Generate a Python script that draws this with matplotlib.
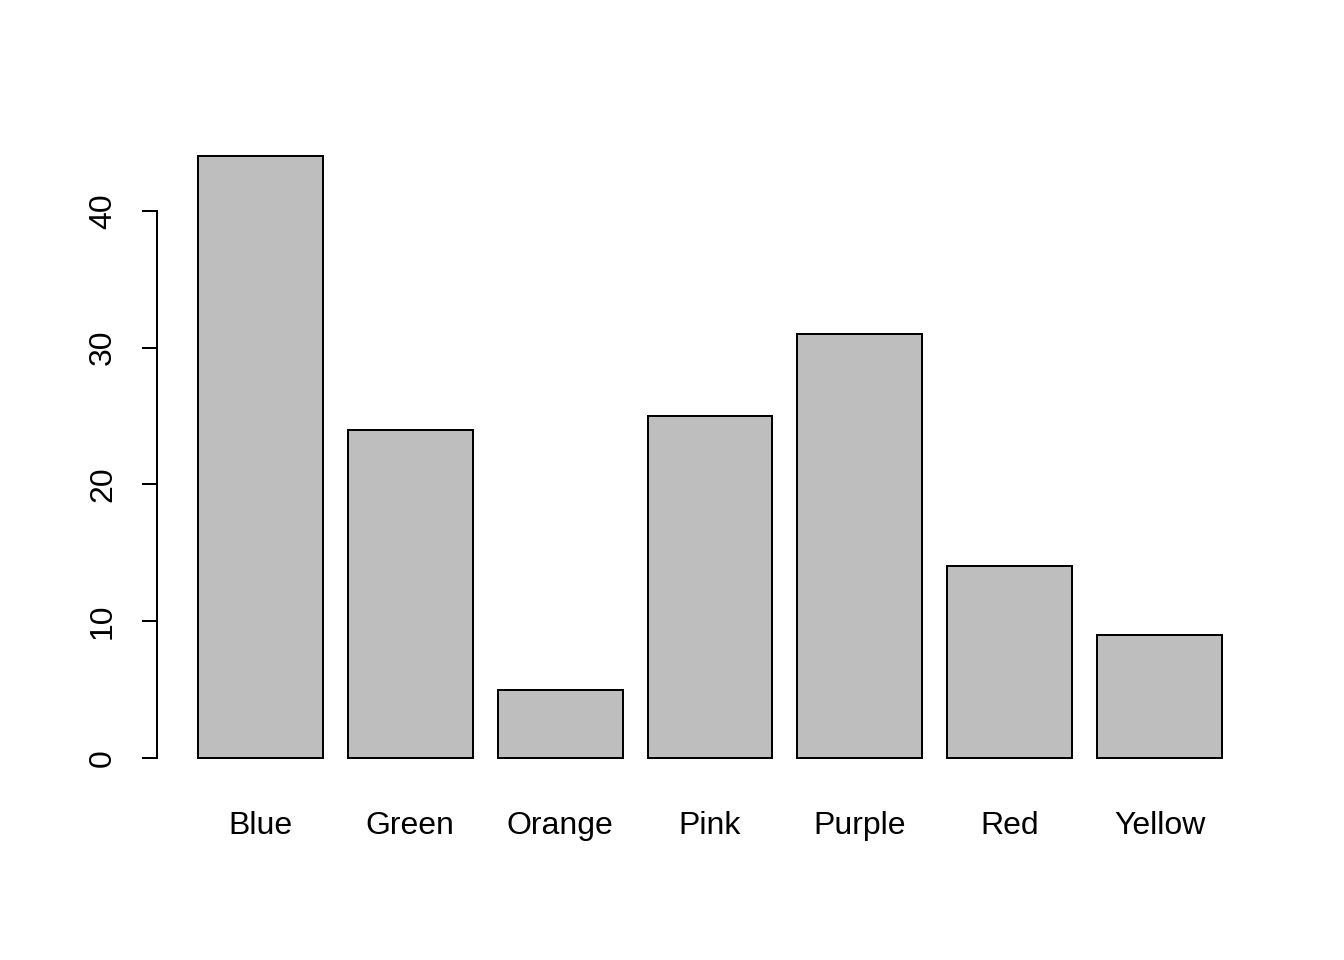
import matplotlib
matplotlib.use("Agg")
import matplotlib.pyplot as plt

categories = ["Blue", "Green", "Orange", "Pink", "Purple", "Red", "Yellow"]
values = [44, 24, 5, 25, 31, 14, 9]
yticks = [0, 10, 20, 30, 40]

plt.rcParams['font.family'] = ['Liberation Sans', 'DejaVu Sans']

fig = plt.figure(figsize=(7, 5), dpi=192)
W, H = 1344, 960
ax = fig.add_axes([157 / W, (H - 782) / H, (1263 - 157) / W, (782 - 132) / H])

width = 1.0
space = 0.2
lefts = [space + i * (width + space) for i in range(len(values))]
centers = [l + width / 2 for l in lefts]
ax.bar(centers, values, width=width, color="#BEBEBE", edgecolor="black", linewidth=0.75)

xmin, xmax = lefts[0], lefts[-1] + width
dx = (xmax - xmin) * 0.04
ax.set_xlim(xmin - dx, xmax + dx)
ymax = max(values)
dy = ymax * 0.04
ax.set_ylim(-dy, ymax + dy)

for s in ["top", "right", "bottom"]:
    ax.spines[s].set_visible(False)
ax.spines["left"].set_bounds(0, 40)
ax.spines["left"].set_linewidth(0.75)

ax.set_yticks(yticks)
ax.set_yticklabels([str(t) for t in yticks], rotation=90, va="center", fontsize=12)
ax.tick_params(axis="y", length=5.6, width=0.75, pad=9)
ax.set_xticks(centers)
ax.set_xticklabels(categories, fontsize=12)
ax.tick_params(axis="x", length=0, pad=10.8)

fig.savefig("out.png", dpi=192)
